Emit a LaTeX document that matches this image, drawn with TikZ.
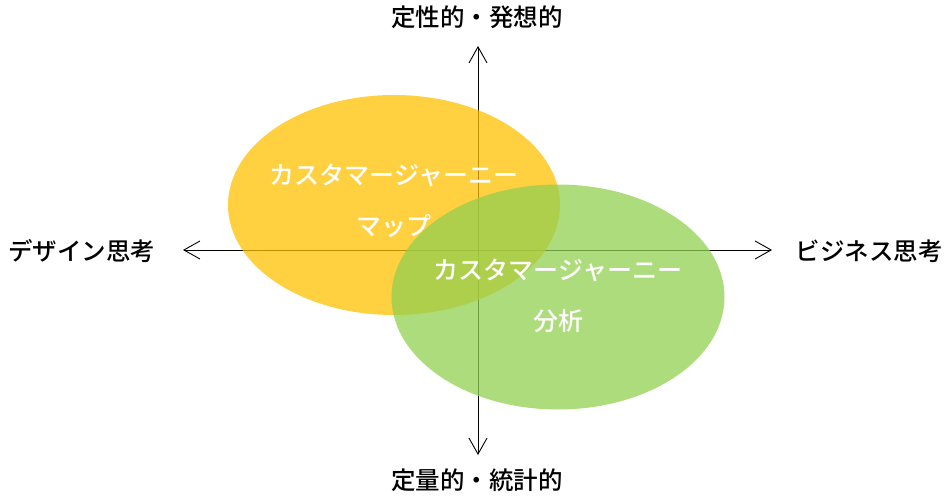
\documentclass[tikz,border=0pt]{standalone}
\usepackage{fontspec}
\setmainfont{Noto Sans CJK JP Medium}
\usepackage{xcolor}
\usetikzlibrary{positioning,arrows.meta,shapes.geometric}

\definecolor{mapyellow}{HTML}{FFC000}
\definecolor{anagreen}{HTML}{92D050}

\begin{document}
\begin{tikzpicture}[
  x=1pt, y=-1pt,
  font=\fontsize{24.5}{52}\selectfont,
  axis/.style ={{Straight Barb[length=16pt,width=18pt]}-{Straight Barb[length=16pt,width=18pt]}, line width=0.9pt},
  bubble/.style={draw=none, ellipse, fill opacity=0.75, inner sep=0pt},
  bubtext/.style={text=white, align=center, inner sep=0pt,
                  font=\fontsize{25}{51}\selectfont},
  axlabel/.style={inner sep=0pt},
]
\useasboundingbox (0,0) rectangle (948,497);

% axes
\coordinate (ntop) at (478,46);
\coordinate (nbot) at (478,455);
\coordinate (wleft) at (183,250);
\coordinate (eright) at (772,250);
\draw[axis] (nbot) -- (ntop);
\draw[axis] (wleft) -- (eright);

\node[axlabel] (toplab) at (477,17) {定性的・発想的};
\node[axlabel] (botlab) at (477,480) {定量的・統計的};
\node[axlabel] (leftlab) at (82,251) {デザイン思考};
\node[axlabel] (rightlab) at (869,251) {ビジネス思考};

% circles
\node[bubble, fill=mapyellow, minimum width=332pt, minimum height=220pt] (map) at (394,205) {};
\node[bubble, fill=anagreen, minimum width=333pt, minimum height=225pt] (ana) at (558,297) {};

\node[bubtext] (maptext) at (394,201) {カスタマージャーニー\\マップ};
\node[bubtext] (anatext) at (558,296) {カスタマージャーニー\\分析};

\end{tikzpicture}
\end{document}
